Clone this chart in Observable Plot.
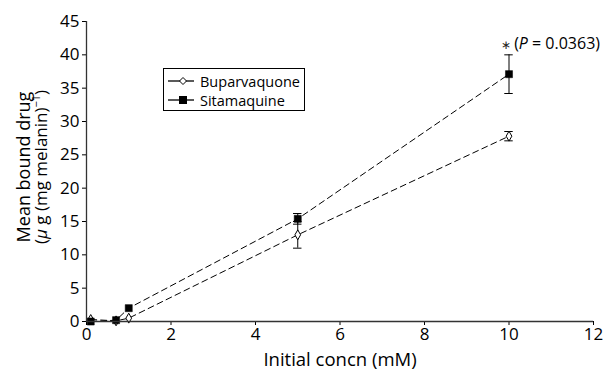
<!DOCTYPE html>
<html><head><meta charset="utf-8">
<script src="https://cdn.jsdelivr.net/npm/d3@7"></script>
<script src="https://cdn.jsdelivr.net/npm/@observablehq/plot@0.6"></script>
<style>
body{margin:0;background:#fff;font-family:"Open Sans",sans-serif;}
#wrap{position:relative;width:614px;height:372px;}
#legend{position:absolute;left:163px;top:68px;width:142px;height:43px;border:1px solid #000;box-sizing:border-box;font-size:14.5px;color:#000;}
.lrow{position:absolute;left:4px;height:20px;display:flex;align-items:center;white-space:nowrap;}
.lrow svg{margin-right:6px;flex:none;}
</style></head>
<body><div id="wrap"><div id="legend"></div></div>
<script>
const concn = [0.1, 0.7, 1, 5, 10];
const buparvaquone = [0.3, 0.1, 0.5, 13.0, 27.8];
const buparvaquoneErr = [0, 0, 0, 2.0, 0.7];
const sitamaquine = [0.0, 0.2, 2.0, 15.4, 37.1];
const sitamaquineErr = [0, 0, 0, 0.8, 2.9];
const seriesNames = ["Buparvaquone", "Sitamaquine"];
const xTicks = [0, 2, 4, 6, 8, 10, 12];
const yTicks = [0, 5, 10, 15, 20, 25, 30, 35, 40, 45];

const bup = concn.map((x, i) => ({x, y: buparvaquone[i], e: buparvaquoneErr[i], s: seriesNames[0]}));
const sit = concn.map((x, i) => ({x, y: sitamaquine[i], e: sitamaquineErr[i], s: seriesNames[1]}));
const errs = [...bup, ...sit].filter(d => d.e > 0);
const capW = 0.1;

const plot = Plot.plot({
  width: 614, height: 372,
  marginLeft: 86, marginRight: 21, marginTop: 21, marginBottom: 51,
  style: {fontFamily: "Open Sans", fontSize: "17px", color: "#000", background: "#fff"},
  x: {domain: [0, 12], ticks: xTicks, tickSize: 4, tickPadding: 2, label: null},
  y: {domain: [0, 45], ticks: yTicks, tickSize: 4, tickPadding: 3, label: null},
  marks: [
    Plot.line(bup, {x: "x", y: "y", stroke: "#000", strokeWidth: 1, strokeDasharray: "6,4"}),
    Plot.line(sit, {x: "x", y: "y", stroke: "#000", strokeWidth: 1, strokeDasharray: "6,4"}),
    Plot.ruleX(errs, {x: "x", y1: d => d.y - d.e, y2: d => d.y + d.e, stroke: "#000", strokeWidth: 1}),
    Plot.ruleY(errs, {y: d => d.y - d.e, x1: d => d.x - capW, x2: d => d.x + capW, stroke: "#000", strokeWidth: 1}),
    Plot.ruleY(errs, {y: d => d.y + d.e, x1: d => d.x - capW, x2: d => d.x + capW, stroke: "#000", strokeWidth: 1}),
    Plot.dot(bup, {x: "x", y: "y", symbol: "diamond", r: 3, fill: "#fff", stroke: "#000", strokeWidth: 1}),
    Plot.dot(sit, {x: "x", y: "y", symbol: "square", r: 4, fill: "#000", stroke: "#000", strokeWidth: 0.5}),
    Plot.ruleX([0], {stroke: "#333", strokeWidth: 1.3}),
    Plot.ruleY([0], {stroke: "#333", strokeWidth: 1.3}),
    Plot.text([sit[4]], {x: "x", y: d => d.y + d.e, text: () => "* (P = 0.0363)", dy: -11, dx: -8, textAnchor: "start", fontSize: 16, className: "pann"})
  ]
});
document.getElementById("wrap").prepend(plot);
const svg = d3.select(plot);
// italic P
svg.selectAll(".pann text").each(function() {
  const t = d3.select(this);
  t.text(null);
  t.append("tspan").attr("font-size", 12).attr("fill", "#222").text("\u2217 ");
  t.append("tspan").text("(");
  t.append("tspan").attr("font-style", "italic").text("P");
  t.append("tspan").text(" = 0.0363)");
});
// y label
svg.append("text").attr("transform", "translate(30,167) rotate(-90)")
  .attr("text-anchor", "middle").attr("font-size", 18).attr("fill", "#000").text("Mean bound drug");
const yl2 = svg.append("text").attr("transform", "translate(47,167) rotate(-90)")
  .attr("text-anchor", "middle").attr("font-size", 17).attr("fill", "#000");
yl2.append("tspan").text("(");
yl2.append("tspan").attr("font-style", "italic").text("μ");
yl2.append("tspan").text(" g (mg melanin)");
yl2.append("tspan").attr("font-size", 11).attr("dy", -7).text("−1");
yl2.append("tspan").attr("dy", 7).text(")");
// x label
svg.append("text").attr("x", 340).attr("y", 366).attr("text-anchor", "middle")
  .attr("font-size", 18.5).attr("fill", "#000").text("Initial concn (mM)");

// legend
const leg = document.getElementById("legend");
seriesNames.forEach((n, i) => {
  const row = document.createElement("div");
  row.className = "lrow";
  row.style.top = (i === 0 ? 2 : 21) + "px";
  const sym = i === 0
    ? '<svg width="26" height="10"><line x1="0" y1="5" x2="26" y2="5" stroke="#000" stroke-width="1.3"/><path d="M15,1.5L18.5,5L15,8.5L11.5,5Z" fill="#fff" stroke="#000"/></svg>'
    : '<svg width="26" height="10"><line x1="0" y1="5" x2="26" y2="5" stroke="#000" stroke-width="1.3"/><rect x="11" y="1" width="8" height="8" fill="#000"/></svg>';
  row.innerHTML = sym + "<span>" + n + "</span>";
  leg.appendChild(row);
});
</script></body></html>
